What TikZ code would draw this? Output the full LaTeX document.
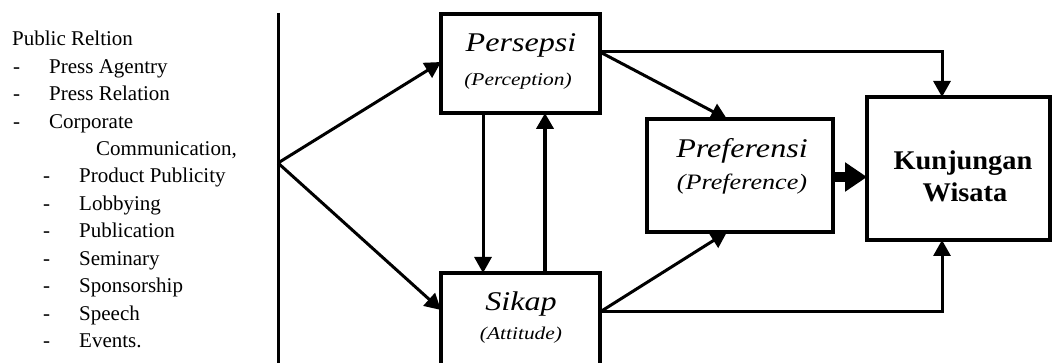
\documentclass[tikz,border=0pt]{standalone}
\usepackage{fontspec}
\setmainfont{Liberation Serif}
\newfontfamily\boxfont[FakeStretch=1.19]{Liberation Serif}
\newfontfamily\goalfont[FakeStretch=1.05]{Liberation Serif}
\usetikzlibrary{arrows.meta,calc}

\begin{document}
\begin{tikzpicture}[x=1pt,y=-1pt,
  item/.style={anchor=base west,inner sep=0pt,font=\fontsize{21}{25}\selectfont},
  box/.style={draw,line width=3.2pt,inner sep=0pt,outer sep=0pt,anchor=north west},
  head/.style={anchor=base,inner sep=0pt,font=\boxfont\itshape\fontsize{27}{32}\selectfont},
  sub/.style={anchor=base,inner sep=0pt,font=\boxfont\itshape\fontsize{18}{22}\selectfont},
  goal/.style={anchor=base,inner sep=0pt,font=\goalfont\bfseries\fontsize{27}{32}\selectfont},
  tip/.style={-{Triangle[length=16pt,width=17pt]}},
  conn/.style={line width=3pt,tip},
  bold conn/.style={line width=4.5pt,tip},
  big conn/.style={line width=10pt,-{Triangle[length=22pt,width=28pt]}},
  rule/.style={line width=3pt}]

\useasboundingbox (0,0) rectangle (1052,363);
\clip (0,0) rectangle (1052,363);

% list of public relation activities
\node[item] (pr)   at (12,46)    {Public Reltion};
\node[item] (d1)   at (13,73.4)  {-};
\node[item] (t1)   at (49,73.4)  {Press Agentry};
\node[item] (d2)   at (13,100.8) {-};
\node[item] (t2)   at (49,100.8) {Press Relation};
\node[item] (d3)   at (13,128.2) {-};
\node[item] (t3)   at (49,128.2) {Corporate};
\node[item] (t3b)  at (96,155.6) {Communication,};
\node[item] (d4)   at (43,183)   {-};
\node[item] (t4)   at (79,183)   {Product Publicity};
\node[item] (d5)   at (43,210.4) {-};
\node[item] (t5)   at (79,210.4) {Lobbying};
\node[item] (d6)   at (43,237.8) {-};
\node[item] (t6)   at (79,237.8) {Publication};
\node[item] (d7)   at (43,265.2) {-};
\node[item] (t7)   at (79,265.2) {Seminary};
\node[item] (d8)   at (43,292.6) {-};
\node[item] (t8)   at (79,292.6) {Sponsorship};
\node[item] (d9)   at (43,320)   {-};
\node[item] (t9)   at (79,320)   {Speech};
\node[item] (d10)  at (43,347.4) {-};
\node[item] (t10)  at (79,347.4) {Events.};

% boxes
\node[box,minimum width=159pt,minimum height=99pt]  (pers) at (441,14)  {};
\node[box,minimum width=159pt,minimum height=110pt] (sikap) at (441,273) {};
\node[box,minimum width=186pt,minimum height=113pt] (pref) at (647,119) {};
\node[box,minimum width=183pt,minimum height=143pt] (kunj) at (867,97)  {};

% box texts
\node[head] (persT)  at (521,52)  {Persepsi};
\node[sub]  (persS)  at (518,86)  {(Perception)};
\node[head] (sikapT) at (521,310) {Sikap};
\node[sub]  (sikapS) at (521,339) {(Attitude)};
\node[head] (prefT)  at (742,158) {Preferensi};
\node[head,font=\boxfont\itshape\fontsize{22}{26}\selectfont] (prefS) at (742,190) {(Preference)};
\node[goal] (kunjT)  at (963,170) {Kunjungan};
\node[goal] (kunjW)  at (965,202) {Wisata};

% divider and fork
\coordinate (vtop) at (278,13);
\coordinate (vbot) at (278,372);
\coordinate (apex) at (278,163);
\draw[rule] (vtop) -- (vbot);

\draw[conn] (apex) -- ([yshift=1.5pt]pers.west);
\draw[conn] (apex) -- ([yshift=-37pt]sikap.north west);

% between perception and attitude
\draw[conn] ([xshift=42pt]pers.south west) -- ([xshift=42pt]sikap.north west);
\draw[bold conn] ([xshift=104pt]sikap.north west) -- ([xshift=104pt]pers.south west);

% towards preference
\draw[conn] ([yshift=-38pt]pers.north east) -- ([xshift=80pt]pref.north west);
\draw[conn] ([yshift=-39pt]sikap.north east) -- ([xshift=80pt]pref.south west);

% towards the visit
\draw[conn,line join=miter] ([yshift=-38pt]pers.north east) -| ([xshift=75pt]kunj.north west);
\draw[conn,line join=miter] ([yshift=-39pt]sikap.north east) -| ([xshift=75pt]kunj.south west);
\draw[big conn] ([yshift=-1.5pt]pref.east) -- ([yshift=-1.5pt]pref.east -| kunj.west);

\end{tikzpicture}
\end{document}
